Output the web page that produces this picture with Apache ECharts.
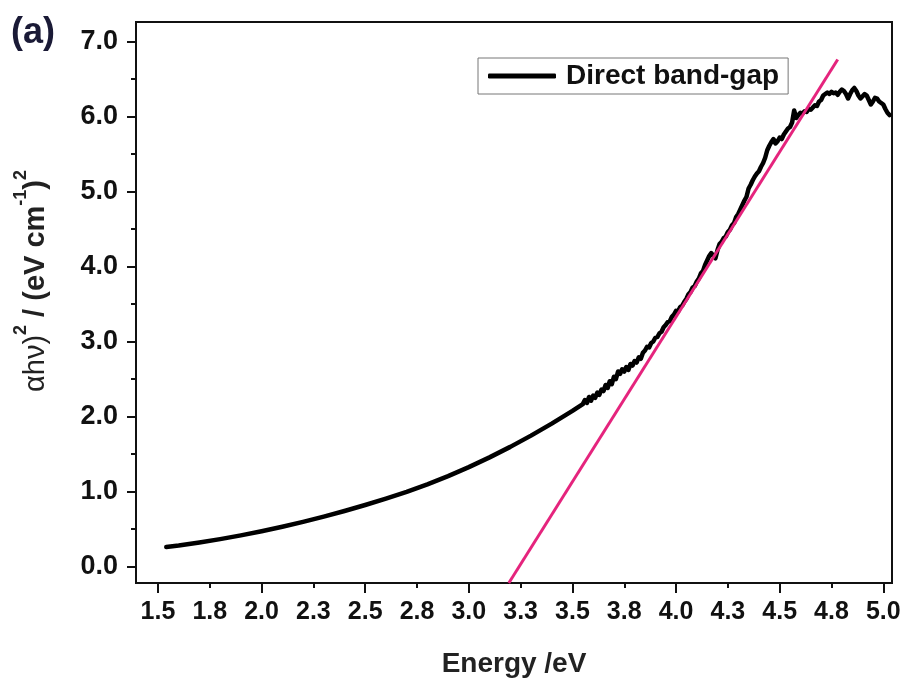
<!DOCTYPE html>
<html>
<head>
<meta charset="utf-8">
<script src="https://cdn.jsdelivr.net/npm/echarts@6/dist/echarts.min.js"></script>
<style>
  html, body { margin: 0; padding: 0; background: #fff; }
  #chart { width: 908px; height: 682px; }
</style>
</head>
<body>
<div id="chart"></div>
<script>
// Photon energy (eV) and (αhν)² values of the Tauc curve
const energy = [
  1.54, 1.60, 1.70, 1.80, 1.90, 2.00, 2.10, 2.20, 2.30, 2.40, 2.50, 2.60, 2.70, 2.80, 2.90,
  3.00, 3.10, 3.20, 3.30, 3.40, 3.50, 3.55,
  3.56, 3.57, 3.58, 3.59, 3.60, 3.61, 3.62, 3.63, 3.64, 3.65, 3.66, 3.67, 3.68, 3.69,
  3.70, 3.71, 3.72, 3.73, 3.74, 3.75, 3.76, 3.77, 3.78, 3.79, 3.80, 3.81, 3.82, 3.83,
  3.84, 3.85, 3.86, 3.87, 3.88, 3.89, 3.90, 3.91, 3.92, 3.93, 3.94, 3.95, 3.96, 3.97,
  3.98, 3.99, 4.00, 4.01, 4.02, 4.03, 4.04, 4.05, 4.06, 4.07, 4.08, 4.09, 4.10, 4.11,
  4.12, 4.13, 4.14, 4.15, 4.16, 4.17, 4.18, 4.19, 4.20, 4.21, 4.22, 4.23, 4.24, 4.25,
  4.26, 4.27, 4.28, 4.29, 4.30, 4.31, 4.32, 4.33, 4.34, 4.35, 4.36, 4.37, 4.38, 4.39,
  4.40, 4.41, 4.42, 4.43, 4.44, 4.45, 4.46, 4.47, 4.48, 4.49, 4.50, 4.51, 4.52, 4.53,
  4.54, 4.55, 4.56, 4.57, 4.58, 4.59, 4.60, 4.61, 4.62, 4.63, 4.64, 4.65, 4.66, 4.67,
  4.68, 4.69, 4.70, 4.71, 4.72, 4.73, 4.74, 4.75, 4.76, 4.77, 4.78, 4.79, 4.80, 4.81,
  4.82, 4.83, 4.84, 4.85, 4.86, 4.87, 4.88, 4.89, 4.90, 4.91, 4.92, 4.93, 4.94, 4.95,
  4.96, 4.97, 4.98, 4.99, 5.00, 5.01, 5.02, 5.03
];
const alphaHv2 = [
  0.26, 0.28, 0.32, 0.365, 0.415, 0.47, 0.53, 0.595, 0.665, 0.74, 0.82, 0.905, 0.995, 1.095, 1.205,
  1.325, 1.455, 1.595, 1.745, 1.905, 2.075, 2.165,
  2.22, 2.18, 2.26, 2.21, 2.28, 2.25, 2.32, 2.29, 2.36, 2.34, 2.42, 2.38, 2.47, 2.43,
  2.53, 2.50, 2.60, 2.57, 2.63, 2.60, 2.66, 2.62, 2.70, 2.68, 2.74, 2.72, 2.79, 2.77,
  2.85, 2.88, 2.93, 2.92, 2.98, 3.00, 3.05, 3.06, 3.11, 3.13, 3.19, 3.22, 3.26, 3.27,
  3.33, 3.36, 3.41, 3.40, 3.46, 3.48, 3.53, 3.57, 3.63, 3.66, 3.72, 3.74, 3.80, 3.84,
  3.91, 3.94, 4.02, 4.08, 4.14, 4.18, 4.14, 4.11, 4.22, 4.30, 4.33, 4.38, 4.40, 4.46,
  4.49, 4.55, 4.58, 4.66, 4.70, 4.76, 4.82, 4.88, 4.93, 5.04, 5.09, 5.15, 5.20, 5.24,
  5.27, 5.33, 5.38, 5.45, 5.55, 5.61, 5.66, 5.70, 5.64, 5.67, 5.72, 5.70, 5.76, 5.80,
  5.84, 5.86, 5.92, 6.08, 5.98, 6.02, 6.05, 6.04, 6.07, 6.06, 6.10, 6.09, 6.12, 6.15,
  6.14, 6.20, 6.22, 6.28, 6.30, 6.32, 6.30, 6.33, 6.31, 6.32, 6.29, 6.33, 6.36, 6.34,
  6.30, 6.24, 6.30, 6.35, 6.38, 6.34, 6.28, 6.24, 6.27, 6.30, 6.28, 6.22, 6.16, 6.20,
  6.25, 6.24, 6.20, 6.18, 6.16, 6.10, 6.05, 6.02
];

// Linear extrapolation of the absorption edge
const fitEnergy = [3.193, 4.780];
const fitValue = [-0.22, 6.76];

// Tick positions and their printed labels
const xTicks = [1.5, 1.75, 2.0, 2.25, 2.5, 2.75, 3.0, 3.25, 3.5, 3.75, 4.0, 4.25, 4.5, 4.75, 5.0];
const xTickLabels = ['1.5', '1.8', '2.0', '2.3', '2.5', '2.8', '3.0', '3.3', '3.5', '3.8', '4.0', '4.3', '4.5', '4.8', '5.0'];
const xMajorTicks = [1.5, 2.0, 2.5, 3.0, 3.5, 4.0, 4.5, 5.0];
const yTicks = [0, 1, 2, 3, 4, 5, 6, 7];
const yTickLabels = ['0.0', '1.0', '2.0', '3.0', '4.0', '5.0', '6.0', '7.0'];
const yMinorTicks = [0.5, 1.5, 2.5, 3.5, 4.5, 5.5, 6.5];

const FONT = "'Liberation Sans', Arial, sans-serif";
const INK = '#111';

function labelFor(ticks, labels) {
  return function (v) {
    const i = ticks.findIndex(t => Math.abs(t - v) < 1e-6);
    return i >= 0 ? labels[i] : '';
  };
}

const xRange = { min: 1.394, max: 5.042 };
const yRange = { min: -0.22, max: 7.26 };

const chart = echarts.init(document.getElementById('chart'), null, { renderer: 'canvas' });

chart.setOption({
  animation: false,
  backgroundColor: '#fff',
  grid: {
    left: 136, right: 16, top: 22, bottom: 99,
    outerBoundsMode: 'none', containLabel: false,
    show: true, borderColor: INK, borderWidth: 2, backgroundColor: 'transparent'
  },
  legend: {
    data: ['Direct band-gap'],
    left: 478, top: 58,
    padding: [4, 9, 4, 10],
    borderColor: '#777', borderWidth: 1,
    icon: 'roundRect',
    itemWidth: 68, itemHeight: 5,
    textStyle: { fontFamily: FONT, fontWeight: 'bold', fontSize: 28, color: INK, padding: [0, 0, 0, 5] }
  },
  xAxis: [
    {
      type: 'value', position: 'bottom', min: xRange.min, max: xRange.max,
      splitLine: { show: false },
      axisLine: { onZero: false, lineStyle: { color: INK, width: 2 } },
      axisTick: { customValues: xTicks, length: 5, lineStyle: { color: INK, width: 2 } },
      axisLabel: {
        customValues: xTicks, formatter: labelFor(xTicks, xTickLabels),
        fontFamily: FONT, fontWeight: 'bold', fontSize: 25, color: INK, margin: 17
      },
      name: 'Energy /eV', nameLocation: 'middle', nameGap: 67,
      nameTextStyle: { fontFamily: FONT, fontWeight: 'bold', fontSize: 28, color: '#222' }
    },
    {
      type: 'value', position: 'bottom', min: xRange.min, max: xRange.max,
      splitLine: { show: false },
      axisLine: { show: false, onZero: false },
      axisTick: { customValues: xMajorTicks, length: 10, lineStyle: { color: INK, width: 2 } },
      axisLabel: { show: false }
    }
  ],
  yAxis: [
    {
      type: 'value', position: 'left', min: yRange.min, max: yRange.max,
      splitLine: { show: false },
      axisLine: { onZero: false, lineStyle: { color: INK, width: 2 } },
      axisTick: { customValues: yTicks, length: 9, lineStyle: { color: INK, width: 2 } },
      axisLabel: {
        customValues: yTicks, formatter: labelFor(yTicks, yTickLabels),
        fontFamily: FONT, fontWeight: 'bold', fontSize: 27, color: INK, margin: 18
      }
    },
    {
      type: 'value', position: 'left', min: yRange.min, max: yRange.max,
      splitLine: { show: false },
      axisLine: { show: false, onZero: false },
      axisTick: { customValues: yMinorTicks, length: 5, lineStyle: { color: INK, width: 2 } },
      axisLabel: { show: false }
    }
  ],
  graphic: [
    {
      type: 'text', left: 11, top: 15,
      style: { text: '(a)', fontFamily: FONT, fontWeight: 'bold', fontSize: 36, fill: '#1a1a36' }
    },
    {
      type: 'text', x: 31, y: 281, rotation: Math.PI / 2,
      style: {
        text: '{n|αhν)}{s|2}{b| / (eV cm}{s|-1}{b|)}{s|2}',
        align: 'center', verticalAlign: 'middle',
        rich: {
          n: { fontFamily: FONT, fontSize: 29, fontWeight: 'normal', fill: '#222', verticalAlign: 'bottom', lineHeight: 38 },
          b: { fontFamily: FONT, fontSize: 29, fontWeight: 'bold', fill: '#222', verticalAlign: 'bottom', lineHeight: 38 },
          s: { fontFamily: FONT, fontSize: 18, fontWeight: 'bold', fill: '#222', verticalAlign: 'top', lineHeight: 38 }
        }
      }
    }
  ],
  series: [
    {
      name: 'Direct band-gap',
      type: 'line',
      xAxisIndex: 0, yAxisIndex: 0,
      showSymbol: false,
      data: energy.map((e, i) => [e, alphaHv2[i]]),
      itemStyle: { color: '#000' },
      lineStyle: { color: '#000', width: 4.5, join: 'round', cap: 'round' },
      z: 2
    },
    {
      name: 'Linear fit',
      type: 'line',
      xAxisIndex: 0, yAxisIndex: 0,
      showSymbol: false,
      data: fitEnergy.map((e, i) => [e, fitValue[i]]),
      itemStyle: { color: '#e5247d' },
      lineStyle: { color: '#e5247d', width: 3 },
      z: 3
    }
  ]
});
</script>
</body>
</html>
